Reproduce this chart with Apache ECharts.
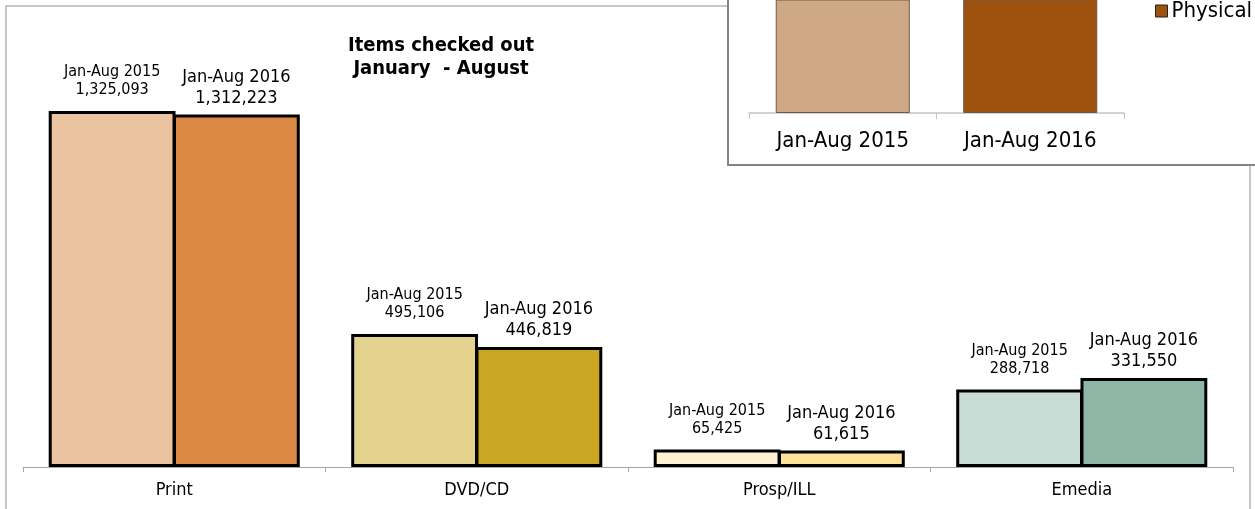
<!DOCTYPE html>
<html>
<head>
<meta charset="utf-8">
<script src="https://cdn.jsdelivr.net/npm/echarts@6/dist/echarts.min.js"></script>
<style>
  html, body { margin: 0; padding: 0; background: #fff; overflow: hidden; }
  #main { position: absolute; left: 0; top: 0; width: 1255px; height: 509px; }
  #inset { position: absolute; left: 727px; top: -2px; width: 540px; height: 164px;
           border: 2px solid #858585; background: #fff; }
</style>
</head>
<body>
<div id="main"></div>
<div id="inset"></div>
<script>
// main chart data
var categories = ['Print', 'DVD/CD', 'Prosp/ILL', 'Emedia'];
var periods = ['Jan-Aug 2015', 'Jan-Aug 2016'];
var values2015 = [1325093, 495106, 65425, 288718];
var values2016 = [1312223, 446819, 61615, 331550];

// inset chart data (top is cropped in the picture)
var insetCategories = ['Jan-Aug 2015', 'Jan-Aug 2016'];
var physicalValues = [1885624, 1820657];

// colours per category
var colors2015 = ['#EBC3A1', '#E3D38F', '#FFF2D3', '#C8DCD5'];
var colors2016 = ['#DA8843', '#C9A723', '#FDE199', '#8FB6A5'];
var insetColors = ['#CFA886', '#9E520E'];

var FONT = '"DejaVu Sans Condensed", "DejaVu Sans", sans-serif';

function fmt(v) { return v.toLocaleString('en-US'); }

function barSeries(name, values, colors, fontSize, lineHeight, dist) {
  return {
    name: name,
    type: 'bar',
    barGap: '-2%',
    barCategoryGap: '17%',
    data: values.map(function (v, i) {
      return { value: v, itemStyle: { color: colors[i] } };
    }),
    itemStyle: { borderColor: '#000', borderWidth: 3 },
    label: {
      show: true,
      position: 'top',
      distance: dist,
      color: '#000',
      fontFamily: FONT,
      fontSize: fontSize,
      lineHeight: lineHeight,
      formatter: function (p) { return name + '\n' + fmt(p.value); }
    }
  };
}

var mainChart = echarts.init(document.getElementById('main'));
mainChart.setOption({
  animation: false,
  title: {
    text: 'Items checked out\nJanuary  - August',
    left: 436,
    top: 29,
    textAlign: 'center',
    textStyle: { fontFamily: FONT, fontSize: 20, fontWeight: 'bold', color: '#000', lineHeight: 23 }
  },
  graphic: [{
    type: 'rect',
    shape: { x: 6, y: 6, width: 1244, height: 520 },
    style: { fill: 'none', stroke: '#b5b5b5', lineWidth: 1.5 },
    silent: true
  }],
  grid: { left: 23, width: 1210, top: 91, height: 376 },
  xAxis: {
    type: 'category',
    data: categories,
    axisLine: { lineStyle: { color: '#a6a6a6', width: 1 } },
    axisTick: { show: true, length: 5, lineStyle: { color: '#a6a6a6' } },
    axisLabel: { color: '#000', fontFamily: FONT, fontSize: 18, margin: 14 }
  },
  yAxis: { type: 'value', min: 0, max: 1400000, show: false, splitLine: { show: false } },
  series: [
    barSeries(periods[0], values2015, colors2015, 16, 18, 12),
    barSeries(periods[1], values2016, colors2016, 18, 21, 6)
  ]
});

var insetChart = echarts.init(document.getElementById('inset'));
insetChart.setOption({
  animation: false,
  legend: {
    data: ['Physical'],
    left: 421,
    top: -5,
    icon: 'rect',
    itemWidth: 12,
    itemHeight: 12,
    itemGap: 4,
    itemStyle: { borderColor: '#222', borderWidth: 1 },
    textStyle: { fontFamily: FONT, fontSize: 22, color: '#000', padding: [0, 0, 0, -1] }
  },
  grid: { left: 20, width: 375, top: 0, height: 113 },
  xAxis: {
    type: 'category',
    data: insetCategories,
    axisLine: { lineStyle: { color: '#c4c4c4', width: 1.5 } },
    axisTick: { show: true, length: 6, lineStyle: { color: '#c4c4c4' } },
    axisLabel: { color: '#000', fontFamily: FONT, fontSize: 22, margin: 17 }
  },
  yAxis: { type: 'value', min: 0, max: 1000000, show: false, splitLine: { show: false } },
  series: [{
    name: 'Physical',
    type: 'bar',
    barCategoryGap: '28.5%',
    itemStyle: { color: insetColors[1], borderColor: '#6e5a48', borderWidth: 1 },
    data: physicalValues.map(function (v, i) {
      return { value: v, itemStyle: { color: insetColors[i] } };
    })
  }]
});
</script>
</body>
</html>
